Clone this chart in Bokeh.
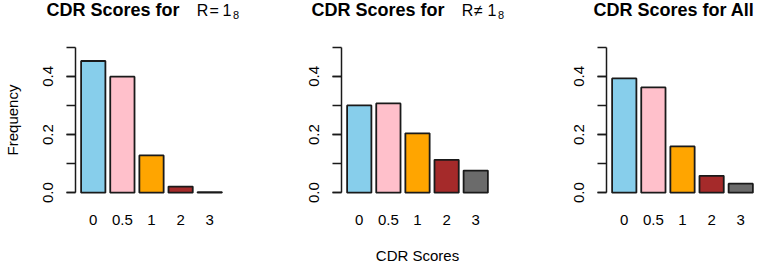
from bokeh.plotting import figure
from bokeh.layouts import row, column
from bokeh.models import (Range1d, FixedTicker, PrintfTickFormatter, Div,
                          ColumnDataSource)
from bokeh.embed import file_html
from bokeh.resources import INLINE

# ---- data ----
categories = ["0", "0.5", "1", "2", "3"]
freq_r1 = [0.453, 0.399, 0.128, 0.021, 0.002]
freq_not_r1 = [0.300, 0.307, 0.204, 0.113, 0.076]
freq_all = [0.393, 0.362, 0.159, 0.058, 0.031]
bar_colors = ["#87CEEB", "#FFC0CB", "#FFA500", "#A52A2A", "#6B6B6B"]
y_ticks = [0.0, 0.2, 0.4]
y_minor = [0.0, 0.1, 0.2, 0.3, 0.4, 0.5]

FONT = "Liberation Sans"
EDGE = "#1a1a1a"
FRAME_W = 152
FRAME_H = 157
TITLE_H = 41
BOTTOM = 64


def make_panel(values, left, right, ylabel=None, xlabel=None):
    idx = list(range(len(categories)))
    src = ColumnDataSource(dict(x=idx, top=values, color=bar_colors))
    p = figure(output_backend="svg", toolbar_location=None,
               frame_width=FRAME_W, frame_height=FRAME_H,
               min_border_left=left, min_border_right=right,
               min_border_top=0, min_border_bottom=BOTTOM,
               x_range=Range1d(-0.61, len(categories) - 1 + 0.61),
               y_range=Range1d(-0.02, 0.52))
    p.vbar(x="x", top="top", bottom=0, width=1 / 1.2, fill_color="color",
           line_color=EDGE, line_width=1.8, source=src)
    p.outline_line_color = None
    p.xgrid.visible = False
    p.ygrid.visible = False
    p.background_fill_color = "white"
    p.border_fill_color = "white"

    xa = p.xaxis[0]
    xa.ticker = FixedTicker(ticks=idx)
    xa.major_label_overrides = {i: c for i, c in enumerate(categories)}
    xa.axis_line_color = None
    xa.major_tick_line_color = None
    xa.minor_tick_line_color = None
    xa.major_tick_out = 0
    xa.major_tick_in = 0
    xa.minor_tick_out = 0
    xa.major_label_standoff = 16
    xa.major_label_text_font = FONT
    xa.major_label_text_font_size = "15px"
    xa.major_label_text_color = "black"
    if xlabel:
        xa.axis_label = xlabel
        xa.axis_label_text_font = FONT
        xa.axis_label_text_font_size = "15px"
        xa.axis_label_text_font_style = "normal"
        xa.axis_label_text_color = "black"
        xa.axis_label_standoff = 19

    ya = p.yaxis[0]
    ya.bounds = (0, 0.5)
    ya.ticker = FixedTicker(ticks=y_ticks, minor_ticks=y_minor)
    ya.formatter = PrintfTickFormatter(format="%.1f")
    ya.axis_line_color = EDGE
    ya.axis_line_width = 1.5
    ya.major_tick_line_color = EDGE
    ya.major_tick_line_width = 1.5
    ya.minor_tick_line_color = EDGE
    ya.minor_tick_line_width = 1.5
    ya.major_tick_out = 9
    ya.major_tick_in = 0
    ya.minor_tick_out = 9
    ya.minor_tick_in = 0
    ya.major_label_orientation = "vertical"
    ya.major_label_standoff = 13
    ya.major_label_text_font = FONT
    ya.major_label_text_font_size = "15px"
    ya.major_label_text_color = "black"
    if ylabel:
        ya.axis_label = ylabel
        ya.axis_label_text_font = FONT
        ya.axis_label_text_font_size = "15px"
        ya.axis_label_text_font_style = "normal"
        ya.axis_label_text_color = "black"
        ya.axis_label_standoff = 20
    return p


def span(txt, left, top, size, weight="normal"):
    lh = round(size * 1.15, 2)
    return (f'<span style="position:absolute;left:{left}px;top:{top}px;'
            f'font-family:\'{FONT}\';font-size:{size}px;line-height:{lh}px;'
            f'font-weight:{weight};color:black;white-space:nowrap">{txt}</span>')


def title_div(width, parts):
    html = (f'<div style="position:relative;width:{width}px;height:{TITLE_H}px;">'
            + "".join(span(*pt) for pt in parts) + '</div>')
    return Div(text=html, width=width, height=TITLE_H, margin=(0, 0, 0, 0),
               styles={"overflow": "visible"})


W1, W2, W3 = 260, 265, 238
p1 = make_panel(freq_r1, 71, W1 - 71 - FRAME_W, ylabel="Frequency")
p2 = make_panel(freq_not_r1, 77, W2 - 77 - FRAME_W, xlabel="CDR Scores")
p3 = make_panel(freq_all, 77, W3 - 77 - FRAME_W)

d1 = title_div(W1, [("CDR Scores for", 46.5, 0, 18, "bold"),
                    ("R", 196.7, 1.9, 16), ("=", 209.5, 1.9, 16),
                    ("1", 222.5, 1.9, 16), ("8", 233, 9.4, 11)])
d2 = title_div(W2, [("CDR Scores for", 51.5, 0, 18, "bold"),
                    ("R", 201.7, 1.9, 16), ("\u2260", 214, 1.9, 16),
                    ("1", 227.5, 1.9, 16), ("8", 238, 9.4, 11)])
d3 = title_div(W3, [("CDR Scores for All", 68.5, 0, 18, "bold")])

layout = column(row(d1, d2, d3), row(p1, p2, p3))
open("out.html", "w").write(file_html(layout, INLINE))
